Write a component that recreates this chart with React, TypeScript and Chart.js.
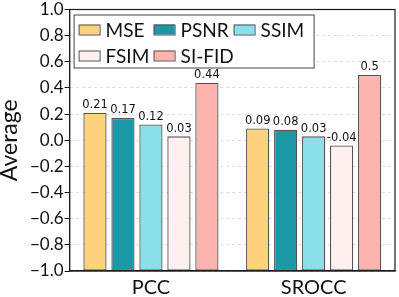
import React, { useEffect, useRef } from "react";
import { Chart, registerables } from "chart.js";

Chart.register(...registerables);

const categories = ["PCC", "SROCC"];
const seriesNames = ["MSE", "PSNR", "SSIM", "FSIM", "SI-FID"];
const mseValues = [0.21, 0.09];
const psnrValues = [0.17, 0.08];
const ssimValues = [0.12, 0.03];
const fsimValues = [0.03, -0.04];
const sifidValues = [0.44, 0.5];
const seriesColors = ["#FDD17D", "#1B97A5", "#8BDFE9", "#FDF0EE", "#FDB4AF"];
const yMin = -1.0;
const yMax = 1.0;
const yStep = 0.2;

const FONT = "Lato, 'Open Sans', sans-serif";

const boxPlugin = {
  id: "plotBox",
  afterDraw(chart: any) {
    const { ctx, chartArea } = chart;
    ctx.save();
    ctx.strokeStyle = "#1a1a1a";
    ctx.lineWidth = 1.2;
    ctx.strokeRect(chartArea.left, chartArea.top, chartArea.right - chartArea.left, chartArea.bottom - chartArea.top);
    ctx.restore();
  },
};

const valueLabelPlugin = {
  id: "valueLabels",
  afterDatasetsDraw(chart: any) {
    const { ctx } = chart;
    ctx.save();
    ctx.font = "11.5px 'DejaVu Sans', sans-serif";
    ctx.fillStyle = "#111";
    ctx.textAlign = "center";
    ctx.textBaseline = "bottom";
    chart.data.datasets.forEach((ds: any, i: number) => {
      const meta = chart.getDatasetMeta(i);
      meta.data.forEach((el: any, j: number) => {
        const v = ds.data[j];
        ctx.fillText(String(v), el.x, el.y - 2);
      });
    });
    ctx.restore();
  },
};

const legendPlugin = {
  id: "boxLegend",
  afterDraw(chart: any) {
    const { ctx, chartArea } = chart;
    const bx = chartArea.left + 4;
    const by = chartArea.top + 5;
    const bw = 240;
    const bh = 53;
    ctx.save();
    ctx.fillStyle = "rgba(255,255,255,0.92)";
    ctx.fillRect(bx, by, bw, bh);
    ctx.strokeStyle = "#444";
    ctx.lineWidth = 1;
    ctx.strokeRect(bx + 0.5, by + 0.5, bw, bh);
    const colX = [5, 80, 160];
    const rowY = [15, 41];
    ctx.font = "19px " + FONT;
    ctx.textBaseline = "middle";
    ctx.textAlign = "left";
    chart.data.datasets.forEach((ds: any, i: number) => {
      const col = i % 3;
      const row = Math.floor(i / 3);
      const sx = bx + colX[col];
      const sy = by + rowY[row];
      ctx.fillStyle = ds.backgroundColor;
      ctx.fillRect(sx, sy - 5, 21, 10);
      ctx.strokeStyle = "#555";
      ctx.lineWidth = 1;
      ctx.strokeRect(sx + 0.5, sy - 5 + 0.5, 21, 10);
      ctx.fillStyle = "#111";
      ctx.fillText(ds.label, sx + 27, sy + 1);
    });
    ctx.restore();
  },
};

export default function App() {
  const ref = useRef<HTMLCanvasElement>(null);
  useEffect(() => {
    if (!ref.current) return;
    const allValues = [mseValues, psnrValues, ssimValues, fsimValues, sifidValues];
    const chart = new Chart(ref.current, {
      type: "bar",
      data: {
        labels: categories,
        datasets: seriesNames.map((name, i) => ({
          label: name,
          data: allValues[i],
          base: yMin,
          backgroundColor: seriesColors[i],
          borderColor: "#555",
          borderWidth: 1.3,
          borderSkipped: false,
          barPercentage: 0.83,
          categoryPercentage: 0.86,
        })),
      },
      options: {
        animation: false,
        responsive: true,
        maintainAspectRatio: false,
        layout: { padding: { top: -1, right: 4, left: 0, bottom: -8 } },
        plugins: {
          legend: { display: false },
          tooltip: { enabled: false },
        },
        scales: {
          x: {
            grid: { display: false, drawTicks: false },
            border: { display: true, color: "#1a1a1a", width: 1.2 },
            ticks: { font: { family: FONT, size: 20, lineHeight: 1.0 }, color: "#111", padding: 7 },
          },
          y: {
            min: yMin,
            max: yMax,
            ticks: {
              stepSize: yStep,
              font: { family: FONT, size: 17, lineHeight: 1.0 },
              color: "#111",
              padding: 1,
              callback: (v: any) => (Math.round(Number(v) * 10) / 10).toFixed(1).replace("-", "\u2212"),
            },
            grid: { color: "#dcdcdc", tickColor: "#111", tickLength: 5, tickBorderDash: [] },
            border: { display: true, color: "#1a1a1a", width: 1.2, dash: [3, 3] },
            title: {
              display: true,
              text: "Average",
              font: { family: FONT, size: 23, lineHeight: 1.0 },
              color: "#111",
              padding: { top: -2, bottom: 8 },
            },
          },
        },
      },
      plugins: [valueLabelPlugin, boxPlugin, legendPlugin],
    });
    return () => chart.destroy();
  }, []);
  return (
    <div style={{ position: "fixed", left: 0, top: 0, width: 399, height: 297, background: "#fff" }}>
      <canvas ref={ref} />
    </div>
  );
}
